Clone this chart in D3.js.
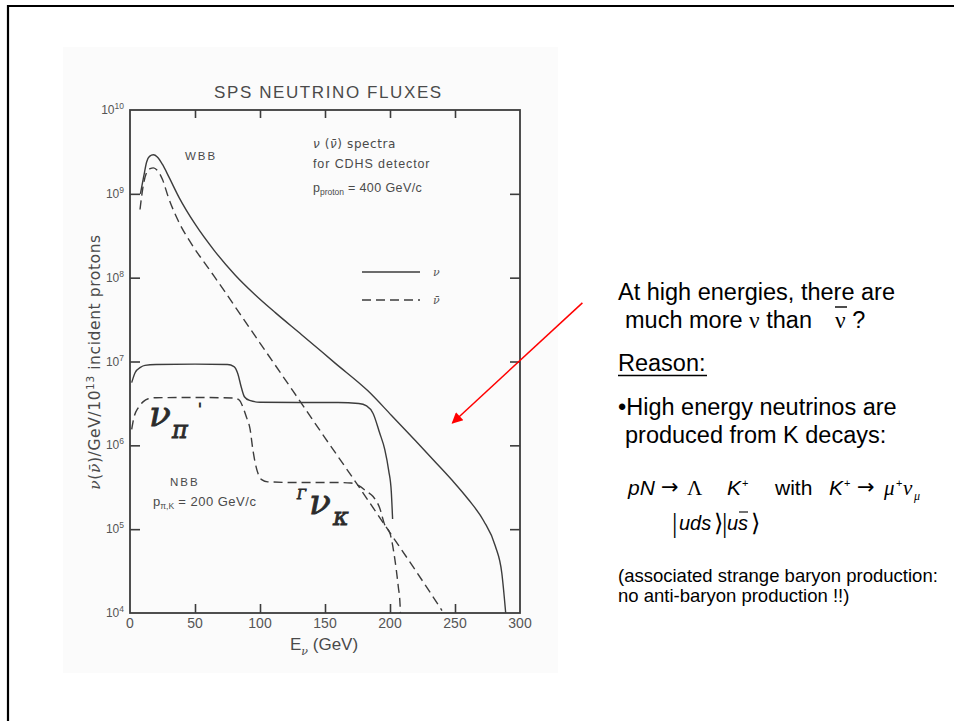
<!DOCTYPE html>
<html>
<head>
<meta charset="utf-8">
<script src="https://cdn.jsdelivr.net/npm/d3@7"></script>
<style>
  body { margin: 0; background: #fff; }
  svg { display: block; }
</style>
</head>
<body>
<svg id="chart" width="954" height="721"></svg>
<script>
// values: [E_nu (GeV), nu per GeV per 1e13 incident protons]
const wbbNu = [
  [8, 1.0e9], [10.5, 1.6e9], [12.8, 2.4e9], [15, 2.8e9], [18, 2.92e9], [21, 2.75e9],
  [25, 2.24e9], [30, 1.58e9], [38, 8.9e8], [50, 4.37e8], [65, 2.09e8], [81, 1.07e8],
  [96, 6.3e7], [112, 3.8e7], [132, 2.09e7], [158, 9.5e6], [183, 4.47e6], [201, 2.29e6],
  [220, 1.12e6], [235, 6.3e5], [248, 3.8e5], [260, 2.29e5], [272, 1.26e5], [281, 6.3e4],
  [286, 3.0e4], [289, 1.0e4]
];
const wbbNuBar = [
  [7.7, 6.5e8], [10.2, 1.26e9], [12.8, 1.8e9], [15.5, 2.0e9], [18, 2.04e9], [21, 1.9e9],
  [25, 1.48e9], [29.5, 9.1e8], [37, 4.8e8], [47.4, 2.51e8], [60, 1.32e8], [73, 6.8e7],
  [84.6, 3.7e7], [100, 1.66e7], [125.6, 4.4e6], [150, 1.23e6], [171.8, 4.0e5],
  [202.6, 7.9e4], [220, 3.16e4], [240, 1.07e4]
];
const nbbNu = [
  [1.3, 5.6e6], [4, 7.4e6], [8, 8.5e6], [11.5, 9.0e6], [20, 9.2e6], [50, 9.3e6],
  [75, 9.2e6], [80, 8.7e6], [83, 7.1e6], [85.5, 5.0e6], [88, 3.8e6], [92, 3.43e6],
  [100, 3.27e6], [130, 3.24e6], [160, 3.24e6], [176, 3.16e6], [182, 2.95e6], [187, 2.4e6],
  [192, 1.41e6], [196, 8.9e5], [199, 5.0e5], [201, 2.8e5], [202, 1.32e5]
];
const nbbNuBar = [
  [1.3, 1.55e6], [3, 2.14e6], [6.4, 2.82e6], [10, 3.3e6], [14, 3.6e6], [20, 3.7e6],
  [50, 3.72e6], [80, 3.67e6], [84, 3.47e6], [87, 2.82e6], [89.7, 2.14e6], [92.3, 1.58e6],
  [94.5, 8.9e5], [96.2, 6.3e5], [98.5, 4.6e5], [101.3, 3.9e5], [106, 3.67e5], [130, 3.6e5],
  [160, 3.6e5], [170, 3.55e5], [176, 3.3e5], [182, 2.82e5], [187, 2.45e5], [192, 1.8e5],
  [196, 1.12e5], [200, 8.9e4], [203.8, 4.3e4], [206.4, 2.04e4], [207.7, 1.29e4], [208, 1.0e4]
];

const xTicks = [0, 50, 100, 150, 200, 250, 300];
const yTicks = [1e4, 1e5, 1e6, 1e7, 1e8, 1e9, 1e10];
const yExp = ["4", "5", "6", "7", "8", "9", "10"];

// red annotation arrow, in data coordinates (start lies right of the frame)
const arrowFrom = [348, 5.0e7];
const arrowTo = [248, 1.85e6];

const svg = d3.select("#chart");
const ink = "#3c3c3c";

const x = d3.scaleLinear().domain([0, 300]).range([130, 520]);
const y = d3.scaleLog().domain([1e4, 1e10]).range([613, 110]);

// slide frame (top + left edge only) and faint scan background
svg.append("rect").attr("x", 63).attr("y", 47).attr("width", 495).attr("height", 626)
  .attr("fill", "#fbfbfb");
svg.append("path").attr("d", "M8,721V6H954").attr("fill", "none")
  .attr("stroke", "#000").attr("stroke-width", 2.2);

// plot frame
svg.append("rect")
  .attr("x", x(0)).attr("y", y(1e10))
  .attr("width", x(300) - x(0)).attr("height", y(1e4) - y(1e10))
  .attr("fill", "none").attr("stroke", ink).attr("stroke-width", 1.8);

// inward ticks on all four sides
const inner = xTicks.slice(1, -1);
const innerY = yTicks.slice(1, -1);
const axes = [
  svg.append("g").attr("transform", `translate(0,${y(1e4)})`)
    .call(d3.axisBottom(x).tickValues(inner).tickSize(-9).tickFormat("")),
  svg.append("g").attr("transform", `translate(0,${y(1e10)})`)
    .call(d3.axisTop(x).tickValues(inner).tickSize(-8).tickFormat("")),
  svg.append("g").attr("transform", `translate(${x(0)},0)`)
    .call(d3.axisLeft(y).tickValues(innerY).tickSize(-10).tickFormat("")),
  svg.append("g").attr("transform", `translate(${x(300)},0)`)
    .call(d3.axisRight(y).tickValues(innerY).tickSize(-10).tickFormat(""))
];
axes.forEach(g => {
  g.select(".domain").remove();
  g.selectAll("line").attr("stroke", ink).attr("stroke-width", 1.6);
});

// tick labels
svg.append("g").selectAll("text").data(xTicks).join("text")
  .attr("x", d => x(d)).attr("y", 628)
  .attr("text-anchor", "middle")
  .attr("font-family", "Liberation Sans, Arial, sans-serif")
  .attr("font-size", 14).attr("fill", "#555")
  .text(d => d);

const yl = svg.append("g").selectAll("text").data(yTicks).join("text")
  .attr("x", 124).attr("y", d => y(d) + 4)
  .attr("text-anchor", "end")
  .attr("font-family", "Liberation Sans, Arial, sans-serif")
  .attr("font-size", 12).attr("fill", "#555");
yl.append("tspan").text("10");
yl.append("tspan").attr("dy", -5).attr("font-size", 8.5).text((d, i) => yExp[i]);

// curves
const line = d3.line()
  .x(d => x(d[0]))
  .y(d => y(d[1]))
  .curve(d3.curveMonotoneX);

const series = [
  { data: wbbNu, dash: null },
  { data: wbbNuBar, dash: "9,5" },
  { data: nbbNu, dash: null },
  { data: nbbNuBar, dash: "9,5" }
];
svg.append("g").selectAll("path").data(series).join("path")
  .attr("d", d => line(d.data))
  .attr("fill", "none")
  .attr("stroke", ink)
  .attr("stroke-width", 1.4)
  .attr("stroke-dasharray", d => d.dash);

// legend inside the plot
const leg = svg.append("g");
[[272, null, "ν"], [300, "9,5", "ν\u0304"]].forEach(([ly, dash, lab]) => {
  leg.append("line").attr("x1", 362).attr("x2", 420).attr("y1", ly).attr("y2", ly)
    .attr("stroke", ink).attr("stroke-width", 1.4).attr("stroke-dasharray", dash);
  leg.append("text").attr("x", 433).attr("y", ly + 4)
    .attr("font-family", "DejaVu Serif, serif").attr("font-style", "italic")
    .attr("font-size", 11).attr("fill", "#555").text(lab);
});

// scanned annotations
const scanFont = "Liberation Sans, Arial, sans-serif";
function scanText(tx, ty, size, str, spacing) {
  return svg.append("text").attr("x", tx).attr("y", ty)
    .attr("font-family", scanFont).attr("font-size", size)
    .attr("fill", "#4a4a4a").attr("letter-spacing", spacing || 0).text(str);
}
scanText(214, 98, 17, "SPS  NEUTRINO  FLUXES", 1.6);
scanText(185, 160, 11.5, "WBB", 2);
const t1 = svg.append("text").attr("x", 313).attr("y", 148)
  .attr("font-family", "DejaVu Sans, sans-serif").attr("font-size", 12)
  .attr("letter-spacing", 0.6).attr("fill", "#4a4a4a");
t1.append("tspan").attr("font-style", "italic").text("ν");
t1.append("tspan").text(" (");
t1.append("tspan").attr("font-style", "italic").text("ν\u0304");
t1.append("tspan").text(")  spectra");
scanText(313, 168, 12.5, "for CDHS detector", 0.9);
const t3 = svg.append("text").attr("x", 313).attr("y", 192)
  .attr("font-family", scanFont).attr("font-size", 12.5).attr("fill", "#4a4a4a");
t3.append("tspan").text("p");
t3.append("tspan").attr("dy", 3).attr("font-size", 8.5).text("proton");
t3.append("tspan").attr("dy", -3).attr("letter-spacing", 0.4).text(" = 400 GeV/c");

scanText(170, 486, 11.5, "NBB", 2);
const t4 = svg.append("text").attr("x", 153).attr("y", 506)
  .attr("font-family", scanFont).attr("font-size", 13).attr("fill", "#4a4a4a");
t4.append("tspan").text("p");
t4.append("tspan").attr("dy", 3).attr("font-size", 8.5).text("π,K");
t4.append("tspan").attr("dy", -3).attr("letter-spacing", 0.5).text(" = 200 GeV/c");

// handwritten labels
const hand = "DejaVu Serif, serif";
function handText(tx, ty, size, str) {
  return svg.append("text").attr("x", tx).attr("y", ty)
    .attr("font-family", hand).attr("font-style", "italic").attr("font-size", size)
    .attr("fill", "#2b2b2b").attr("stroke", "#2b2b2b").attr("stroke-width", 0.8).text(str);
}
handText(149, 426, 36, "ν");
handText(172, 438, 24, "π");
handText(198, 414, 14, "'");
handText(297, 499, 13, "Γ");
handText(309, 514, 36, "ν");
handText(333, 525, 24, "κ");

// axis titles
const xt = svg.append("text").attr("x", 290).attr("y", 650)
  .attr("font-family", scanFont).attr("font-size", 17).attr("fill", "#4a4a4a");
xt.append("tspan").text("E");
xt.append("tspan").attr("dy", 5).attr("font-size", 11).attr("font-family", "DejaVu Serif, serif")
  .attr("font-style", "italic").text("ν");
xt.append("tspan").attr("dy", -5).text("  (GeV)");

const yt = svg.append("text")
  .attr("transform", "translate(100,362) rotate(-90)")
  .attr("text-anchor", "middle")
  .attr("font-family", "DejaVu Sans, sans-serif").attr("font-size", 15.5)
  .attr("letter-spacing", 0.6).attr("fill", "#4a4a4a");
yt.append("tspan").attr("font-style", "italic").attr("font-family", "DejaVu Serif, serif").text("ν");
yt.append("tspan").text("(");
yt.append("tspan").attr("font-style", "italic").attr("font-family", "DejaVu Serif, serif").text("ν\u0304");
yt.append("tspan").text(")/GeV/10");
yt.append("tspan").attr("dy", -6).attr("font-size", 10.5).text("13");
yt.append("tspan").attr("dy", 6).text("   incident protons");

// red arrow
const defs = svg.append("defs");
defs.append("marker").attr("id", "head")
  .attr("viewBox", "0 0 10 10").attr("refX", 9).attr("refY", 5)
  .attr("markerWidth", 15).attr("markerHeight", 11).attr("markerUnits", "userSpaceOnUse")
  .attr("orient", "auto")
  .append("path").attr("d", "M0,0L10,5L0,10Z").attr("fill", "#ff0000");
svg.append("line")
  .attr("x1", x(arrowFrom[0])).attr("y1", y(arrowFrom[1]))
  .attr("x2", x(arrowTo[0])).attr("y2", y(arrowTo[1]))
  .attr("stroke", "#ff0000").attr("stroke-width", 1.5)
  .attr("marker-end", "url(#head)");

// slide text on the right
const sans = "Liberation Sans, Arial, sans-serif";
const serif = "Liberation Serif, Times New Roman, serif";
function slide(tx, ty, size, str, fam) {
  return svg.append("text").attr("x", tx).attr("y", ty)
    .attr("font-family", fam || sans).attr("font-size", size).attr("fill", "#000").text(str);
}
slide(618, 300, 23.5, "At high energies, there are");
const l2 = svg.append("text").attr("x", 625).attr("y", 328)
  .attr("font-family", sans).attr("font-size", 23.5).attr("fill", "#000");
l2.append("tspan").text("much more ");
l2.append("tspan").attr("font-family", serif).text("ν");
l2.append("tspan").text(" than  ");
l2.append("tspan").attr("x", 835).attr("font-family", serif).text("ν");
l2.append("tspan").text(" ?");
svg.append("line").attr("x1", 835).attr("x2", 847).attr("y1", 307).attr("y2", 307)
  .attr("stroke", "#000").attr("stroke-width", 1.4);

slide(618, 371, 23.5, "Reason:");
svg.append("line").attr("x1", 618).attr("x2", 707).attr("y1", 375.5).attr("y2", 375.5)
  .attr("stroke", "#000").attr("stroke-width", 1.5);
slide(618, 415, 23.5, "•High energy neutrinos are");
slide(625, 443, 23.5, "produced from K decays:");

// reaction line
const eq = 495;
function eqText(tx, ty, size, str, fam, italic) {
  return svg.append("text").attr("x", tx).attr("y", ty)
    .attr("font-family", fam).attr("font-size", size)
    .attr("font-style", italic ? "italic" : "normal").attr("fill", "#000").text(str);
}
const arrowFont = "DejaVu Sans, sans-serif";
eqText(628, eq, 21, "pN", sans, true);
eqText(661, eq - 1, 21, "→", arrowFont, false);
eqText(687, eq, 21, "Λ", serif, false);
eqText(727, eq, 21, "K", sans, true);
eqText(742, eq - 8, 11, "+", sans, false);
eqText(775, eq, 21, "with", sans, false);
eqText(829, eq, 21, "K", sans, true);
eqText(844, eq - 8, 11, "+", sans, false);
eqText(857, eq - 1, 21, "→", arrowFont, false);
eqText(884, eq, 21, "μ", serif, true);
eqText(896, eq - 8, 11, "+", sans, false);
eqText(903, eq, 21, "ν", serif, true);
eqText(914, eq + 5, 12, "μ", serif, true);

const ket = 530;
eqText(672, ket + 2, 27, "|", serif, false);
eqText(679, ket, 20, "uds", sans, true);
eqText(714, ket + 1, 24, "⟩", "DejaVu Serif, serif", false);
eqText(722, ket + 2, 27, "|", serif, false);
eqText(727, ket, 20, "us", sans, true);
svg.append("line").attr("x1", 739).attr("x2", 748).attr("y1", 512).attr("y2", 512)
  .attr("stroke", "#000").attr("stroke-width", 1.1);
eqText(751, ket + 1, 24, "⟩", "DejaVu Serif, serif", false);

slide(618, 582, 18.5, "(associated strange baryon production:");
slide(618, 602, 18.5, "no anti-baryon production !!)");
</script>
</body>
</html>
